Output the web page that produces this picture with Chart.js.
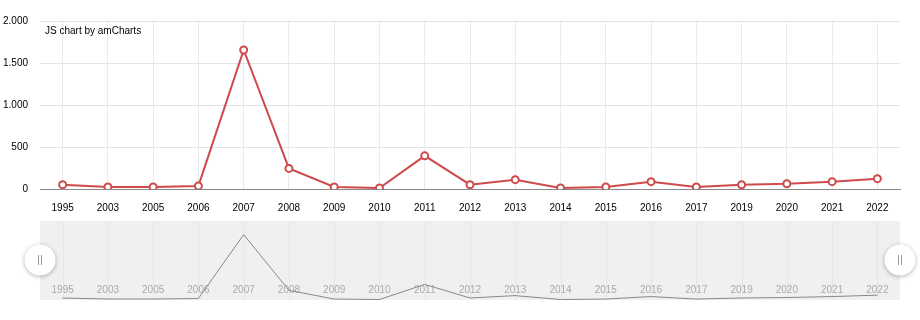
<!DOCTYPE html>
<html>
<head>
<meta charset="utf-8">
<script src="https://cdn.jsdelivr.net/npm/chart.js@4/dist/chart.umd.min.js"></script>
<style>
  body { margin: 0; background: #fff; }
  #wrap { position: relative; width: 920px; height: 320px; }
  #mainBox { position: absolute; left: 0; top: 0; width: 920px; height: 216px; }
  #scrollBox { position: absolute; left: 0; top: 210px; width: 920px; height: 110px; }
</style>
</head>
<body>
<div id="wrap">
  <div id="mainBox"><canvas id="mainChart"></canvas></div>
  <div id="scrollBox"><canvas id="scrollChart"></canvas></div>
</div>
<script>
const years = ["1995", "2003", "2005", "2006", "2007", "2008", "2009", "2010", "2011", "2012",
  "2013", "2014", "2015", "2016", "2017", "2019", "2020", "2021", "2022"];
const values = [50, 25, 25, 37, 1655, 245, 24, 12, 395, 51, 111, 12, 24, 87, 24, 51, 63, 87, 123];
const yTicks = [0, 500, 1000, 1500, 2000];
const yTickLabels = ["0", "500", "1.000", "1.500", "2.000"];

const fontFamily = "'Liberation Sans', Arial, sans-serif";
const lineColor = "#cf4b4b";

// credit text in the top-left corner of the plot
const creditLabel = {
  id: "creditLabel",
  afterDraw(chart) {
    const ctx = chart.ctx;
    ctx.save();
    ctx.font = "10px " + fontFamily;
    ctx.fillStyle = "#000";
    ctx.textBaseline = "middle";
    ctx.fillText("JS chart by amCharts", chart.chartArea.left + 5, 31);
    ctx.restore();
  }
};

const mainChart = new Chart(document.getElementById("mainChart"), {
  type: "line",
  data: {
    labels: years,
    datasets: [{
      data: values,
      borderColor: lineColor,
      borderWidth: 2,
      pointRadius: 3.5,
      pointBorderWidth: 2,
      pointBackgroundColor: "#fff",
      pointBorderColor: lineColor,
      tension: 0
    }]
  },
  plugins: [creditLabel],
  options: {
    animation: false,
    responsive: true,
    maintainAspectRatio: false,
    layout: { padding: { top: 21, right: 20, left: 0, bottom: 0 } },
    plugins: { legend: { display: false }, tooltip: { enabled: false } },
    scales: {
      x: {
        offset: true,
        grid: { offset: false, color: "#ebebeb", drawTicks: false },
        border: { color: "#888", width: 1 },
        ticks: { color: "#000", font: { family: fontFamily, size: 10 }, padding: 13, maxRotation: 0, autoSkip: false },
        afterFit: (s) => { s.height = 27; }
      },
      y: {
        min: 0,
        max: 2000,
        afterBuildTicks: (s) => { s.ticks = yTicks.map(v => ({ value: v })); },
        grid: { color: "#e3e3e3", drawTicks: false },
        border: { display: false },
        ticks: {
          color: "#000",
          font: { family: fontFamily, size: 10 },
          padding: 12,
          callback: (v) => yTickLabels[yTicks.indexOf(v)]
        },
        afterFit: (s) => { s.width = 40; }
      }
    }
  }
});

// scrollbar: background, faint category lines, labels and grips
const scrollDecor = {
  id: "scrollDecor",
  beforeDatasetsDraw(chart) {
    const { ctx, chartArea: a } = chart;
    const x = chart.scales.x;
    ctx.save();
    ctx.fillStyle = "#f0f0f0";
    ctx.fillRect(a.left, a.top, a.right - a.left, a.bottom - a.top);
    ctx.strokeStyle = "#e6e6e6";
    ctx.lineWidth = 1;
    years.forEach((y, i) => {
      const px = Math.round(x.getPixelForValue(i)) + 0.5;
      ctx.beginPath();
      ctx.moveTo(px, a.top);
      ctx.lineTo(px, a.bottom);
      ctx.stroke();
    });
    ctx.font = "10px " + fontFamily;
    ctx.fillStyle = "#aaa";
    ctx.textAlign = "center";
    ctx.textBaseline = "middle";
    years.forEach((y, i) => {
      ctx.fillText(y, x.getPixelForValue(i), 80.5);
    });
    ctx.restore();
  },
  afterDraw(chart) {
    const { ctx, chartArea: a } = chart;
    const cy = 50;
    [a.left, a.right].forEach(cx => {
      ctx.save();
      ctx.shadowColor = "rgba(0,0,0,0.3)";
      ctx.shadowBlur = 4;
      ctx.shadowOffsetY = 1;
      ctx.fillStyle = "#fff";
      ctx.beginPath();
      ctx.arc(cx, cy, 15.5, 0, Math.PI * 2);
      ctx.fill();
      ctx.restore();
      ctx.save();
      ctx.strokeStyle = "#999";
      ctx.lineWidth = 1;
      ctx.beginPath();
      ctx.moveTo(cx - 1.5, cy - 5); ctx.lineTo(cx - 1.5, cy + 5);
      ctx.moveTo(cx + 1.5, cy - 5); ctx.lineTo(cx + 1.5, cy + 5);
      ctx.stroke();
      ctx.restore();
    });
  }
};

const scrollChart = new Chart(document.getElementById("scrollChart"), {
  type: "line",
  data: {
    labels: years,
    datasets: [{
      data: values,
      borderColor: "#888",
      borderWidth: 1,
      pointRadius: 0,
      tension: 0
    }]
  },
  plugins: [scrollDecor],
  options: {
    animation: false,
    responsive: true,
    maintainAspectRatio: false,
    layout: { padding: { top: 11, right: 20, left: 40, bottom: 20 } },
    plugins: { legend: { display: false }, tooltip: { enabled: false } },
    scales: {
      x: { display: false, offset: true },
      y: { display: false, min: 0, max: 2000 }
    }
  }
});
</script>
</body>
</html>
